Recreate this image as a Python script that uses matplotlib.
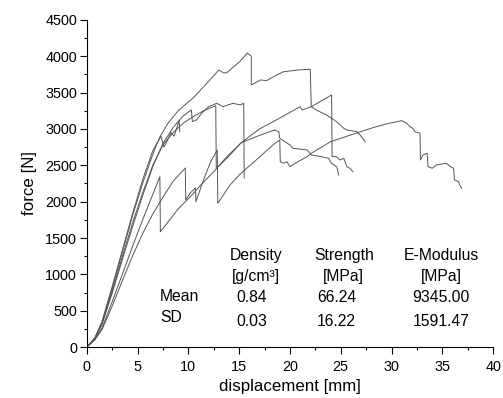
import numpy as np
import matplotlib
matplotlib.use("Agg")
import matplotlib.pyplot as plt
from matplotlib.ticker import MultipleLocator

plt.rcParams['font.family'] = ['Liberation Sans', 'DejaVu Sans']

# specimen curves: displacement [mm], force [N]
s1_x = [0, 0.4, 0.8, 1.5, 2.5, 3.5, 4.5, 5.5, 6.5, 7.2, 8, 9, 10.5, 12.1, 13, 13.5, 13.8, 14.5, 15.1, 15.8,
        16.2, 16.2, 17.1, 17.7, 18.7, 19.4, 20.8, 22.0, 22.1, 22.6, 23.6, 24.6, 25.3, 25.6, 26.6, 26.9, 27.4]
s1_y = [0, 60, 120, 330, 800, 1300, 1800, 2250, 2650, 2890, 3080, 3250, 3430, 3670, 3810, 3770, 3775, 3860, 3930, 4045,
        4000, 3605, 3674, 3665, 3743, 3788, 3811, 3821, 3306, 3261, 3192, 3100, 3009, 2986, 2962, 2917, 2825]

s2_x = [0, 0.4, 0.8, 1.5, 2.5, 3.5, 4.5, 5.5, 6.5, 7.3, 7.6, 7.8, 8.3, 8.6, 9.1, 9.15]
s2_y = [0, 60, 130, 350, 830, 1330, 1830, 2300, 2700, 2900, 2750, 2800, 2950, 2900, 3120, 2960]

s3_x = [0, 0.4, 0.8, 1.5, 2.5, 3.5, 4.5, 5.5, 6.5, 7.5, 8.5, 9.5, 10.5, 11.5, 12.7, 12.75, 13.8, 15.2, 17, 19,
        21, 21.2, 22.1, 24.1, 24.15, 24.6, 24.9, 25.3, 25.6, 25.9, 26.2]
s3_y = [0, 55, 120, 320, 760, 1240, 1700, 2120, 2500, 2780, 2950, 3080, 3170, 3250, 3320, 2459, 2596, 2810, 3000, 3150,
        3306, 3261, 3306, 3467, 2619, 2619, 2573, 2596, 2481, 2459, 2412]

s4_x = [0, 0.4, 0.8, 1.5, 2.5, 3.5, 4.5, 5.5, 6.5, 7.5, 8.5, 9.5, 10.3, 10.4, 10.8, 11.3, 12, 12.8, 13.4, 14.4,
        15.1, 15.45, 15.5]
s4_y = [0, 55, 115, 310, 740, 1200, 1650, 2080, 2480, 2800, 3020, 3180, 3261, 3100, 3123, 3215, 3306, 3353, 3306, 3353,
        3330, 3353, 2325]

s5_x = [0, 0.4, 0.8, 1.5, 2.5, 3.5, 4.5, 5.5, 6.5, 7.2, 7.25, 8, 9, 10.2, 11.3, 12.5, 13.8, 15.2, 17.1, 18.5,
        18.9, 19.0, 20.0, 20.3, 21.7, 22.1, 23.1, 23.8, 24.1, 24.6, 24.8]
s5_y = [0, 50, 100, 260, 620, 1000, 1380, 1750, 2100, 2343, 1586, 1720, 1900, 2068, 2240, 2412, 2620, 2810, 2917, 2986,
        2963, 2871, 2780, 2734, 2711, 2642, 2619, 2596, 2527, 2481, 2367]

s6_x = [0, 0.4, 0.8, 1.5, 2.5, 3.5, 4.5, 5.5, 6.5, 7.5, 8.5, 9.7, 9.75, 10.2, 10.7, 10.75, 11.5, 12.2, 12.85, 12.9,
        14.1, 15.1, 16.9, 18.5, 19.0, 19.05, 19.4, 19.7, 20.0, 20.8, 21.7, 22.1, 24, 26.9, 28, 29.5, 31.0,
        31.5, 31.8, 32.1, 32.3, 32.8, 32.85, 33.1, 33.5, 33.6, 34.0, 34.4, 35.4, 35.8, 36.1, 36.2, 36.6, 36.7, 36.9]
s6_y = [0, 50, 100, 240, 560, 910, 1250, 1560, 1830, 2060, 2280, 2463, 2023, 2120, 2190, 2000, 2300, 2550, 2711, 1977,
        2229, 2380, 2600, 2800, 2848, 2550, 2528, 2550, 2481, 2550, 2619, 2665, 2825, 2960, 3010, 3070, 3114,
        3078, 3031, 3009, 2962, 2941, 2574, 2642, 2665, 2481, 2459, 2504, 2528, 2481, 2459, 2298, 2275, 2229, 2184]

curves = [(s1_x, s1_y), (s2_x, s2_y), (s3_x, s3_y), (s4_x, s4_y), (s5_x, s5_y), (s6_x, s6_y)]

# summary table
col_names = ["Density", "Strength", "E-Modulus"]
col_units = ["[g/cm\u00b3]", "[MPa]", "[MPa]"]
mean_vals = ["0.84", "66.24", "9345.00"]
sd_vals = ["0.03", "16.22", "1591.47"]

fig = plt.figure(figsize=(5.03, 3.98), dpi=100)
ax = fig.add_axes([0.1724, 0.128, 0.808, 0.822])

for cx, cy in curves:
    ax.plot(cx, cy, color='#555555', linewidth=0.7)

ax.set_xlim(0, 40)
ax.set_ylim(0, 4500)
ax.xaxis.set_major_locator(MultipleLocator(5))
ax.xaxis.set_minor_locator(MultipleLocator(2.5))
ax.yaxis.set_major_locator(MultipleLocator(500))
ax.yaxis.set_minor_locator(MultipleLocator(250))
ax.tick_params(which='major', direction='out', length=5, width=0.8, labelsize=10.4)
ax.tick_params(axis='x', which='major', pad=4)
ax.tick_params(axis='y', which='major', pad=2)
ax.tick_params(which='minor', direction='out', length=2.5, width=0.8)
for side in ['top', 'right']:
    ax.spines[side].set_visible(False)

ax.set_xlabel("displacement [mm]", fontsize=12.2, labelpad=4)
ax.set_ylabel("force [N]", fontsize=12.2, labelpad=6)

col_x = [16.7, 25.3, 34.9]
val_x = [16.2, 24.6, 34.9]
for cx, vx, name, unit, m, s in zip(col_x, val_x, col_names, col_units, mean_vals, sd_vals):
    ax.text(cx, 1266, name, ha='center', va='center', fontsize=11.3)
    ax.text(cx, 967, unit, ha='center', va='center', fontsize=11.3)
    ax.text(vx, 680, m, ha='center', va='center', fontsize=11.3)
    ax.text(vx, 355, s, ha='center', va='center', fontsize=11.3)
ax.text(7.2, 692, "Mean", ha='left', va='center', fontsize=11.3)
ax.text(7.2, 413, "SD", ha='left', va='center', fontsize=11.3)

fig.savefig("out.png", dpi=100)
